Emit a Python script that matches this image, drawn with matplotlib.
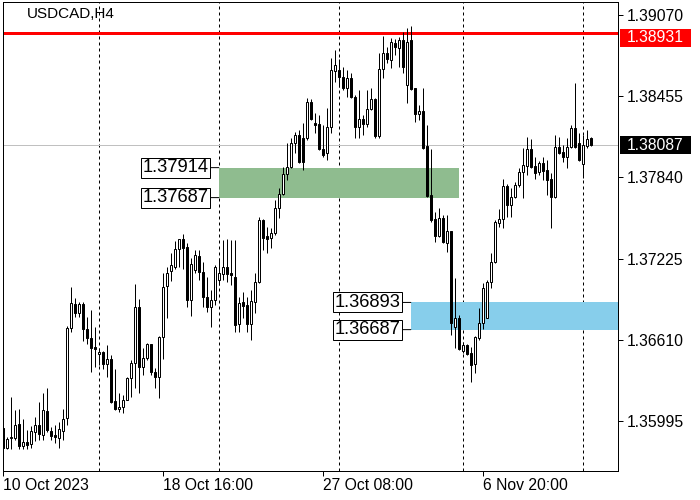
import matplotlib
matplotlib.use("Agg")
import matplotlib.pyplot as plt
import matplotlib.transforms as mtransforms
from matplotlib.patches import Rectangle

plt.rcParams['font.family'] = ['Liberation Sans', 'DejaVu Sans']

symbol_title = "USDCAD,H4"

opens = [
    1.35942, 1.35791, 1.35867, 1.35867, 1.35973, 1.35806, 1.35836, 1.35821, 1.35912, 1.35965,
    1.35889, 1.36071, 1.35920, 1.35889, 1.35867, 1.35920, 1.36018, 1.36700, 1.36882, 1.36813,
    1.36882, 1.36692, 1.36624, 1.36556, 1.36503, 1.36518, 1.36427, 1.36465, 1.36147, 1.36086,
    1.36101, 1.36154, 1.36321, 1.36435, 1.36859, 1.36404, 1.36472, 1.36579, 1.36366, 1.36329,
    1.36632, 1.37018, 1.37131, 1.37162, 1.37298, 1.37374, 1.37313, 1.36912, 1.37139, 1.37245,
    1.37124, 1.36935, 1.36859, 1.36912, 1.37063, 1.37109, 1.37162, 1.37116, 1.37086, 1.36730,
    1.36897, 1.36874, 1.36730, 1.36897, 1.37048, 1.37518, 1.37397, 1.37381, 1.37419, 1.37609,
    1.37715, 1.37866, 1.37919, 1.38101, 1.38162, 1.38139, 1.38139, 1.38411, 1.38252, 1.38245,
    1.38056, 1.38025, 1.38222, 1.38646, 1.38654, 1.38601, 1.38518, 1.38593, 1.38449, 1.38222,
    1.38283, 1.38245, 1.38358, 1.38434, 1.38154, 1.38661, 1.38783, 1.38730, 1.38858, 1.38820,
    1.38881, 1.38540, 1.38881, 1.38518, 1.38321, 1.38343, 1.38078, 1.37707, 1.37525, 1.37397,
    1.37533, 1.37344, 1.37434, 1.36707, 1.36775, 1.36526, 1.36571, 1.36510, 1.36427, 1.36624,
    1.36738, 1.36775, 1.37048, 1.37200, 1.37495, 1.37525, 1.37775, 1.37631, 1.37692, 1.37783,
    1.37881, 1.37927, 1.38056, 1.37927, 1.37881, 1.37949, 1.37896, 1.37828, 1.37692, 1.38071,
    1.38033, 1.37995, 1.38071, 1.38215, 1.38101, 1.37942, 1.38078, 1.38139,
]
highs = [
    1.35957, 1.35874, 1.36177, 1.36079, 1.36086, 1.36011, 1.35927, 1.35957, 1.36026, 1.36139,
    1.36207, 1.36245, 1.35950, 1.35965, 1.35988, 1.36086, 1.36715, 1.37010, 1.36927, 1.36897,
    1.36897, 1.36783, 1.36836, 1.36707, 1.36548, 1.36526, 1.36571, 1.36495, 1.36389, 1.36207,
    1.36192, 1.36329, 1.36457, 1.37033, 1.36919, 1.36548, 1.36586, 1.36579, 1.36397, 1.36639,
    1.37116, 1.37162, 1.37268, 1.37359, 1.37374, 1.37412, 1.37344, 1.37230, 1.37291, 1.37291,
    1.37200, 1.37086, 1.36987, 1.37177, 1.37230, 1.37366, 1.37374, 1.37366, 1.37366, 1.36935,
    1.36972, 1.36935, 1.36987, 1.37116, 1.37540, 1.37525, 1.37465, 1.37457, 1.37669, 1.37760,
    1.37919, 1.38101, 1.38139, 1.38184, 1.38199, 1.38252, 1.38442, 1.38434, 1.38328, 1.38313,
    1.38237, 1.38366, 1.38745, 1.38805, 1.38737, 1.38677, 1.38654, 1.38631, 1.38464, 1.38502,
    1.38313, 1.38502, 1.38518, 1.38442, 1.38783, 1.38911, 1.38828, 1.38896, 1.38889, 1.38904,
    1.38941, 1.38972, 1.38987, 1.38518, 1.38389, 1.38518, 1.38237, 1.38056, 1.37578, 1.37609,
    1.37556, 1.37556, 1.37434, 1.37078, 1.36798, 1.36594, 1.36579, 1.36556, 1.36639, 1.36851,
    1.37041, 1.37063, 1.37268, 1.37518, 1.37601, 1.37828, 1.37790, 1.37760, 1.37806, 1.37912,
    1.38063, 1.38146, 1.38131, 1.37995, 1.37965, 1.37995, 1.37972, 1.37874, 1.38162, 1.38146,
    1.38086, 1.38139, 1.38237, 1.38555, 1.38177, 1.38162, 1.38199, 1.38146,
]
lows = [
    1.35783, 1.35783, 1.35783, 1.35851, 1.35783, 1.35783, 1.35783, 1.35791, 1.35844, 1.35851,
    1.35851, 1.35912, 1.35851, 1.35829, 1.35791, 1.35851, 1.35965, 1.36669, 1.36783, 1.36783,
    1.36601, 1.36579, 1.36366, 1.36404, 1.36420, 1.36389, 1.36329, 1.36132, 1.36079, 1.36063,
    1.36056, 1.36154, 1.36177, 1.36245, 1.36207, 1.36344, 1.36457, 1.36344, 1.36245, 1.36170,
    1.36465, 1.36775, 1.37056, 1.37147, 1.37162, 1.37147, 1.36859, 1.36791, 1.37116, 1.37063,
    1.36859, 1.36821, 1.36707, 1.36874, 1.37025, 1.37063, 1.37048, 1.37025, 1.36669, 1.36669,
    1.36775, 1.36669, 1.36609, 1.36813, 1.37041, 1.37291, 1.37268, 1.37306, 1.37404, 1.37533,
    1.37707, 1.37821, 1.37912, 1.38025, 1.37949, 1.37896, 1.38124, 1.38275, 1.38177, 1.38048,
    1.37995, 1.37972, 1.38177, 1.38563, 1.38525, 1.38502, 1.38449, 1.38442, 1.38139, 1.38139,
    1.38162, 1.38222, 1.38351, 1.38139, 1.38139, 1.38593, 1.38707, 1.38669, 1.38767, 1.38677,
    1.38631, 1.38404, 1.38502, 1.38260, 1.38275, 1.38056, 1.37692, 1.37503, 1.37351, 1.37389,
    1.37344, 1.37275, 1.36647, 1.36548, 1.36533, 1.36510, 1.36495, 1.36291, 1.36359, 1.36609,
    1.36692, 1.36775, 1.37003, 1.37192, 1.37465, 1.37457, 1.37540, 1.37540, 1.37684, 1.37768,
    1.37684, 1.37859, 1.37912, 1.37828, 1.37859, 1.37821, 1.37707, 1.37457, 1.37684, 1.38018,
    1.37957, 1.37912, 1.38063, 1.38063, 1.37965, 1.37836, 1.38063, 1.38078,
]
closes = [
    1.35791, 1.35859, 1.35874, 1.35965, 1.35806, 1.35836, 1.35814, 1.35920, 1.35965, 1.35897,
    1.36079, 1.35927, 1.35882, 1.35874, 1.35935, 1.36011, 1.36700, 1.36889, 1.36813, 1.36882,
    1.36692, 1.36624, 1.36548, 1.36541, 1.36518, 1.36427, 1.36465, 1.36139, 1.36086, 1.36101,
    1.36154, 1.36321, 1.36435, 1.36859, 1.36404, 1.36472, 1.36579, 1.36366, 1.36329, 1.36632,
    1.37010, 1.37116, 1.37177, 1.37298, 1.37374, 1.37306, 1.36912, 1.37184, 1.37253, 1.37124,
    1.36935, 1.36859, 1.36912, 1.37162, 1.37116, 1.37162, 1.37109, 1.37101, 1.36722, 1.36889,
    1.36866, 1.36730, 1.36904, 1.37048, 1.37518, 1.37381, 1.37374, 1.37419, 1.37609, 1.37715,
    1.37866, 1.37919, 1.38101, 1.38162, 1.37957, 1.37957, 1.38411, 1.38283, 1.38237, 1.38056,
    1.38010, 1.38222, 1.38654, 1.38692, 1.38601, 1.38518, 1.38593, 1.38449, 1.38222, 1.38283,
    1.38245, 1.38358, 1.38434, 1.38154, 1.38661, 1.38783, 1.38737, 1.38866, 1.38828, 1.38881,
    1.38677, 1.38866, 1.38510, 1.38321, 1.38343, 1.38063, 1.37700, 1.37518, 1.37397, 1.37533,
    1.37351, 1.37434, 1.36738, 1.36775, 1.36541, 1.36571, 1.36503, 1.36420, 1.36632, 1.36738,
    1.37003, 1.37048, 1.37200, 1.37503, 1.37525, 1.37775, 1.37631, 1.37692, 1.37783, 1.37881,
    1.37934, 1.38056, 1.37919, 1.37874, 1.37949, 1.37889, 1.37821, 1.37692, 1.38071, 1.38025,
    1.37995, 1.38071, 1.38215, 1.38071, 1.37972, 1.38086, 1.38131, 1.38087,
]

x_tick_bars = [0, 40, 80, 120]
x_tick_labels = ["10 Oct 2023", "18 Oct 16:00", "27 Oct 08:00", "6 Nov 20:00"]
y_ticks = [1.39070, 1.38455, 1.37840, 1.37225, 1.36610, 1.35995]
week_separators = [24, 54, 84, 115, 145]

resistance = 1.38931
last_price = 1.38087
green_top, green_bottom = 1.37914, 1.37687
green_start, green_end = 53.9, 113.85
blue_top, blue_bottom = 1.36893, 1.36687
blue_start = 101.9

PX = 0.72  # one pixel in points at 100 dpi

fig = plt.figure(figsize=(7, 5), dpi=100)
ax = fig.add_axes([2.5 / 700, 29 / 500, 615.5 / 700, 469 / 500])
ax.set_xlim(-0.2, 153.7)
ax.set_ylim(1.356163, 1.391685)

# weekly separators
for b in week_separators:
    ax.axvline(b, color="black", lw=PX, ls=(0, (3, 3)), zorder=0.5)

# zones
ax.add_patch(Rectangle((green_start, green_bottom), green_end - green_start,
                       green_top - green_bottom, fc="#8fbc8f", ec="none", zorder=1))
ax.add_patch(Rectangle((blue_start, blue_bottom), 153.7 - blue_start,
                       blue_top - blue_bottom, fc="#87ceeb", ec="none", zorder=1))

# horizontal lines
ax.axhline(resistance, color="#ff0000", lw=3 * PX, zorder=2)
ax.axhline(last_price, color="#c0c0c0", lw=PX, zorder=2)

# candles
xs = list(range(len(opens)))
ax.vlines(xs, lows, highs, color="black", lw=PX, zorder=3)
bottoms = [min(o, c) for o, c in zip(opens, closes)]
heights = [max(abs(c - o), 0.000004) for o, c in zip(opens, closes)]
faces = ["white" if c >= o else "black" for o, c in zip(opens, closes)]
ax.bar(xs, heights, bottom=bottoms, width=0.5, color=faces, edgecolor="black",
       linewidth=PX, zorder=4)

# zone labels
def zone_label(x, price, text):
    ax.annotate(text, xy=(x, price), xytext=(-10, 0), textcoords="offset pixels",
                ha="right", va="center", fontsize=13.2, color="black", zorder=6,
                bbox=dict(boxstyle="square,pad=0.08", fc="white", ec="black", lw=PX),
                arrowprops=dict(arrowstyle="-", lw=PX, color="black",
                                shrinkA=0, shrinkB=0))

zone_label(green_start, green_top, "1.37914")
zone_label(green_start, green_bottom, "1.37687")
zone_label(blue_start, blue_top, "1.36893")
zone_label(blue_start, blue_bottom, "1.36687")

# axes styling
for s in ax.spines.values():
    s.set_linewidth(PX)
    s.set_color("black")

ax.yaxis.tick_right()
ax.set_yticks(y_ticks)
ax.set_yticklabels([f"{v:.5f}" for v in y_ticks])
ax.tick_params(axis="y", direction="out", length=5 * PX, width=PX, pad=3,
               labelsize=11.3, colors="black")
ax.set_xticks(x_tick_bars)
ax.set_xticklabels(x_tick_labels)
ax.tick_params(axis="x", direction="out", length=5 * PX, width=PX, pad=1.5,
               labelsize=11.3, colors="black")
for lbl in ax.get_xticklabels():
    lbl.set_ha("left")

# price boxes on the right scale
blend = mtransforms.blended_transform_factory(ax.transAxes, ax.transData)
axw = 615.5

def price_box(price, text, face, dy_px):
    tr = blend + mtransforms.ScaledTranslation(0, dy_px / 100, fig.dpi_scale_trans)
    ppx = (1.391685 - 1.356163) / 469
    r = Rectangle((1 + 2 / axw, price - 9 * ppx), 71 / axw, 18 * ppx,
                  transform=tr, fc=face, ec="none", clip_on=False, zorder=7)
    ax.add_patch(r)
    ax.text(1 + 9 / axw, price, text, transform=tr, ha="left", va="center",
            fontsize=11.3, color="white", zorder=8, clip_on=False)

price_box(resistance, "1.38931", "#ff0000", -4.5)
price_box(last_price, "1.38087", "black", -0.5)

fig.text(27 / 700, 1 - 14.5 / 500, symbol_title, ha="left", va="center",
         fontsize=11, color="black")

fig.savefig("out.png", dpi=100)
